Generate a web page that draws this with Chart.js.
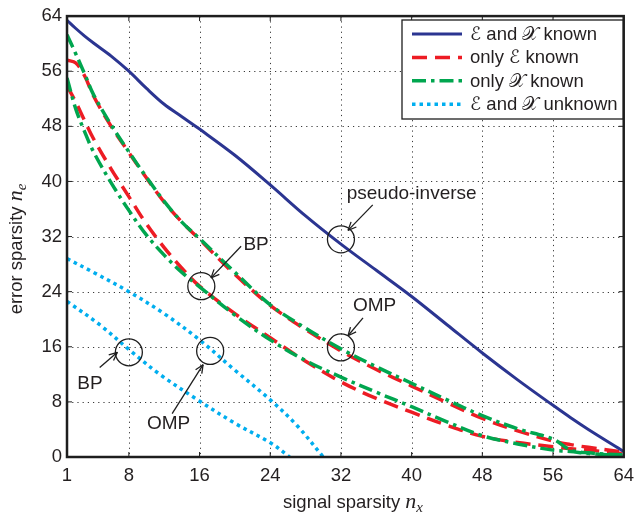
<!DOCTYPE html>
<html lang="en">
<head>
<meta charset="UTF-8">
<title>Sparsity recovery</title>
<style>
  body { margin: 0; background: #fff; }
  #wrap { width: 642px; height: 519px; }
</style>
</head>
<body>
<div id="wrap"><canvas id="grafica" width="642" height="519"></canvas></div>

<script src="https://cdn.jsdelivr.net/npm/chart.js"></script>
<script>
// tick labels
const xTicks = [1, 8, 16, 24, 32, 40, 48, 56, 64];
const yTicks = [0, 8, 16, 24, 32, 40, 48, 56, 64];

// signal sparsity n_x, shared by the known/half-known curves
const nx = [1, 2, 3, 4, 6, 8, 10, 12, 14, 16, 20, 24, 28, 32, 36, 40, 44, 48, 52, 56, 58, 60, 64];

// E and X known (pseudo-inverse)
const bothKnown = [63.4, 62.2, 61.1, 60.1, 58.2, 56.0, 53.5, 51.2, 49.4, 47.6, 43.8, 39.5, 35.0, 30.9, 27.1, 23.3, 19.2, 15.1, 11.2, 7.5, 5.7, 4.0, 0.8];
// only E known: upper = OMP, lower = BP
const eKnownOmp = [57.6, 57.2, 55.3, 52.4, 48.0, 44.2, 40.5, 37.0, 34.1, 31.6, 26.5, 22.0, 18.5, 15.4, 12.7, 10.3, 7.9, 5.6, 3.8, 2.3, 1.8, 1.4, 0.7];
const eKnownBp = [53.9, 51.5, 48.8, 46.2, 41.8, 37.8, 33.8, 30.4, 27.4, 24.8, 20.8, 17.3, 13.9, 10.9, 8.5, 6.5, 4.6, 3.0, 2.1, 1.5, 1.2, 1.0, 0.5];
// only X known
const xKnownOmp = [61.3, 58.5, 55.6, 52.6, 48.2, 44.3, 40.6, 37.1, 34.1, 31.7, 26.8, 22.1, 18.7, 15.7, 13.1, 10.7, 8.3, 6.0, 4.1, 2.6, 1.0, 0.6, 0.3];
const xKnownBp = [55.0, 50.5, 47.2, 44.3, 39.8, 35.8, 32.2, 29.3, 26.8, 24.7, 20.6, 17.0, 14.0, 11.6, 9.4, 7.3, 5.1, 3.1, 1.9, 1.0, 0.8, 0.5, 0.2];

// E and X unknown
const unkOmpX = [1, 4, 8, 12, 16, 20, 24, 27, 30];
const unkOmpY = [28.8, 26.8, 24.0, 20.8, 17.0, 12.6, 8.3, 4.6, 0];
const unkBpX = [1, 4.7, 8.2, 11.5, 15.9, 20, 24.1, 26.2];
const unkBpY = [22.6, 19.2, 15.4, 12.0, 8.2, 4.9, 2.0, 0];

// annotations (data coordinates)
const circles = [[32, 31.6], [16.2, 24.8], [32, 15.9], [8.0, 15.2], [17.2, 15.4]];
const notes = [['pseudo-inverse', 40.0, 38.2], ['BP', 22.4, 30.8], ['OMP', 35.8, 22.0], ['BP', 3.6, 10.7], ['OMP', 12.5, 4.8]];
const arrows = [
  [35.6, 36.6, 32.8, 32.9],
  [20.7, 30.6, 17.3, 26.0],
  [34.5, 20.2, 32.8, 17.6],
  [4.7, 13.0, 6.7, 15.2],
  [12.9, 6.3, 16.4, 13.4]
];

const legendLabels = ['ℰ and 𝒳 known', 'only ℰ known', 'only 𝒳 known', 'ℰ and 𝒳 unknown'];

const BLUE = '#2b3591', RED = '#ed1c24', GREEN = '#00a64f', CYAN = '#00aeef';
const TXT = '#231f20';
const SANS = '"Liberation Sans", Arial, "DejaVu Sans", sans-serif';

const pts = (xs, ys) => xs.map((v, i) => ({ x: v, y: ys[i] }));

const estilos = [
  { color: BLUE, width: 3, dash: [] },
  { color: RED, width: 3.5, dash: [15, 8] },
  { color: GREEN, width: 3.5, dash: [14, 5, 3.5, 5] },
  { color: CYAN, width: 3.5, dash: [3.5, 4] }
];

function serie(data, st, order) {
  return {
    data, order,
    borderColor: st.color, borderWidth: st.width, borderDash: st.dash,
    tension: 0.35, fill: false, pointRadius: 0
  };
}

const datasets = [
  serie(pts(nx, bothKnown), estilos[0], 0),
  serie(pts(nx, xKnownOmp), estilos[2], 1),
  serie(pts(nx, xKnownBp), estilos[2], 1),
  serie(pts(nx, eKnownOmp), estilos[1], 2),
  serie(pts(nx, eKnownBp), estilos[1], 2),
  serie(pts(unkOmpX, unkOmpY), estilos[3], 3),
  serie(pts(unkBpX, unkBpY), estilos[3], 3)
];

function seg(ctx, x0, y0, x1, y1) {
  ctx.beginPath(); ctx.moveTo(x0, y0); ctx.lineTo(x1, y1); ctx.stroke();
}

const decor = {
  id: 'decor',
  beforeDatasetsDraw(chart) {
    const { ctx, chartArea: a, scales: { x, y } } = chart;
    ctx.save();
    ctx.strokeStyle = '#3a3a3a';
    ctx.lineWidth = 1;
    ctx.setLineDash([1.2, 4]);
    xTicks.slice(1, -1).forEach(v => {
      const p = Math.round(x.getPixelForValue(v)) + 0.5;
      seg(ctx, p, a.top, p, a.bottom);
    });
    yTicks.slice(1, -1).forEach(v => {
      const p = Math.round(y.getPixelForValue(v)) + 0.5;
      seg(ctx, a.left, p, a.right, p);
    });
    ctx.restore();
  },
  afterDatasetsDraw(chart) {
    const { ctx, chartArea: a, scales: { x, y } } = chart;
    ctx.save();
    ctx.setLineDash([]);
    ctx.strokeStyle = '#1e1e1e';

    // inward tick marks
    ctx.lineWidth = 1;
    xTicks.forEach(v => {
      const p = x.getPixelForValue(v);
      seg(ctx, p, a.bottom, p, a.bottom - 5);
      seg(ctx, p, a.top, p, a.top + 5);
    });
    yTicks.forEach(v => {
      const p = y.getPixelForValue(v);
      seg(ctx, a.left, p, a.left + 5, p);
      seg(ctx, a.right, p, a.right - 5, p);
    });

    // frame
    ctx.lineWidth = 2.5;
    ctx.strokeRect(a.left, a.top, a.right - a.left, a.bottom - a.top);

    // circles, arrows and notes
    ctx.lineWidth = 1.3;
    circles.forEach(([cx, cy]) => {
      ctx.beginPath();
      ctx.arc(x.getPixelForValue(cx), y.getPixelForValue(cy), 13.5, 0, Math.PI * 2);
      ctx.stroke();
    });
    arrows.forEach(([x0, y0, x1, y1]) => {
      const ax = x.getPixelForValue(x0), ay = y.getPixelForValue(y0);
      const bx = x.getPixelForValue(x1), by = y.getPixelForValue(y1);
      seg(ctx, ax, ay, bx, by);
      const ang = Math.atan2(by - ay, bx - ax);
      [-0.42, 0.42].forEach(d => {
        seg(ctx, bx, by, bx - 9 * Math.cos(ang + d), by - 9 * Math.sin(ang + d));
      });
    });
    ctx.fillStyle = TXT;
    ctx.font = '19px ' + SANS;
    ctx.textAlign = 'center';
    ctx.textBaseline = 'middle';
    notes.forEach(([t, nxv, nyv]) => {
      ctx.fillText(t, x.getPixelForValue(nxv), y.getPixelForValue(nyv));
    });

    // legend
    const L = 402, T = 20, R = 623, B = 119;
    ctx.fillStyle = '#fff';
    ctx.fillRect(L, T, R - L, B - T);
    ctx.lineWidth = 1.3;
    ctx.strokeStyle = '#1e1e1e';
    ctx.strokeRect(L, T, R - L, B - T);
    ctx.textAlign = 'left';
    ctx.font = '18.5px ' + SANS;
    legendLabels.forEach((lab, i) => {
      const ry = 34 + i * 23.4;
      const st = estilos[i];
      ctx.strokeStyle = st.color;
      ctx.lineWidth = st.width;
      ctx.setLineDash(st.dash);
      seg(ctx, 412, ry, 462, ry);
      ctx.setLineDash([]);
      ctx.fillStyle = TXT;
      ctx.fillText(lab, 470, ry + 1);
    });
    ctx.restore();
  },
  afterDraw(chart) {
    const { ctx } = chart;
    ctx.save();
    ctx.fillStyle = TXT;
    ctx.textBaseline = 'alphabetic';
    // axis titles with italic math symbol
    const titulo = (txt, sub, cx, base) => {
      ctx.font = '18.5px ' + SANS;
      const w1 = ctx.measureText(txt).width;
      ctx.font = 'italic 22px "Liberation Serif", "DejaVu Serif", serif';
      const w2 = ctx.measureText('n').width;
      ctx.font = 'italic 15px "Liberation Serif", "DejaVu Serif", serif';
      const w3 = ctx.measureText(sub).width;
      let px = cx - (w1 + w2 + w3) / 2;
      ctx.font = '18.5px ' + SANS;
      ctx.fillText(txt, px, base);
      px += w1;
      ctx.font = 'italic 22px "Liberation Serif", "DejaVu Serif", serif';
      ctx.fillText('n', px, base);
      px += w2;
      ctx.font = 'italic 15px "Liberation Serif", "DejaVu Serif", serif';
      ctx.fillText(sub, px, base + 4);
    };
    titulo('signal sparsity ', 'x', 353, 508);
    ctx.translate(22, 249);
    ctx.rotate(-Math.PI / 2);
    titulo('error sparsity ', 'e', 0, 0);
    ctx.restore();
  }
};

const tickFont = { family: SANS, size: 18.5 };

new Chart(document.getElementById('grafica'), {
  type: 'line',
  data: { datasets },
  options: {
    responsive: false,
    animation: false,
    layout: { padding: { top: 13, right: 11, left: 0, bottom: 0 } },
    plugins: { legend: { display: false }, tooltip: { enabled: false } },
    scales: {
      x: {
        type: 'linear', min: 1, max: 64,
        afterBuildTicks: s => { s.ticks = xTicks.map(v => ({ value: v })); },
        afterFit: s => { s.height = 62; },
        grid: { display: false, drawTicks: false },
        border: { display: false },
        ticks: { autoSkip: false, maxRotation: 0, padding: 8, font: tickFont, color: TXT }
      },
      y: {
        type: 'linear', min: 0, max: 64,
        afterBuildTicks: s => { s.ticks = yTicks.map(v => ({ value: v })); },
        afterFit: s => { s.width = 67; },
        grid: { display: false, drawTicks: false },
        border: { display: false },
        ticks: { autoSkip: false, padding: 5, font: tickFont, color: TXT }
      }
    }
  },
  plugins: [decor]
});
</script>
</body>
</html>
